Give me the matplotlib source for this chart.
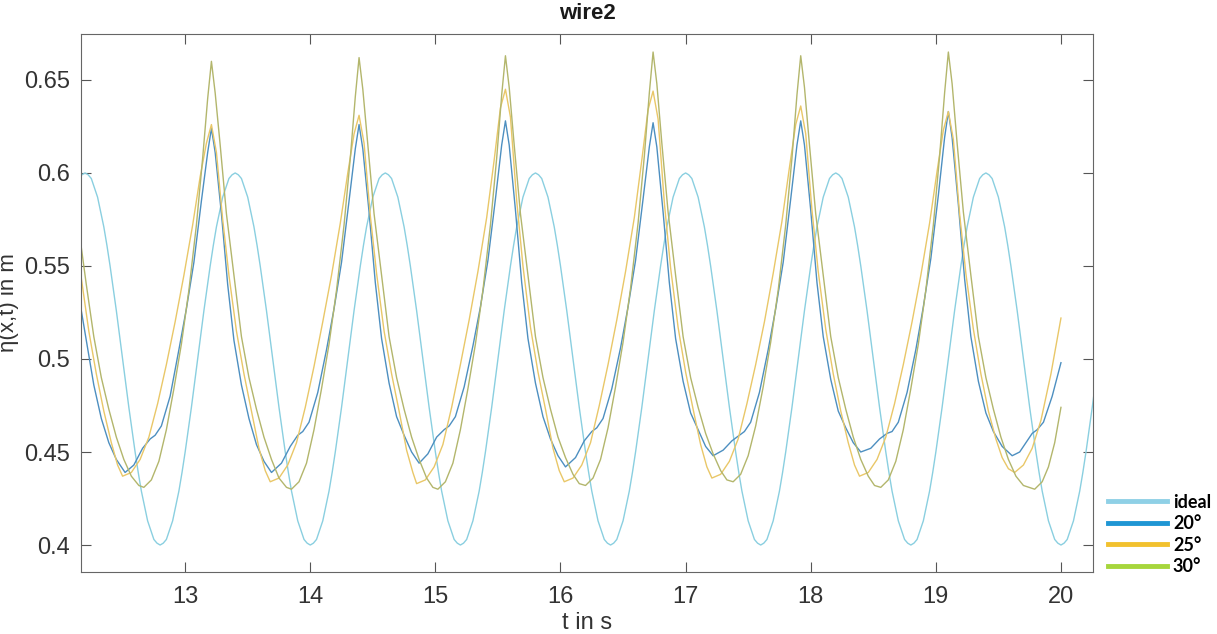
import matplotlib
matplotlib.use("Agg")
import matplotlib.pyplot as plt
from matplotlib.lines import Line2D
import numpy as np

plt.rcParams['font.family'] = ['Liberation Sans', 'DejaVu Sans']

# ideal wave, sampled every 0.025 s from 12.15 s to 20.30 s
ideal_y = [0.597, 0.599,
    0.6, 0.599, 0.597, 0.592, 0.587, 0.579, 0.571, 0.561, 0.55, 0.538, 0.526, 0.513, 0.5, 0.487, 0.474, 0.462, 0.45, 0.439, 0.429, 0.421, 0.413, 0.408, 0.403, 0.401,
    0.4, 0.401, 0.403, 0.408, 0.413, 0.421, 0.429, 0.439, 0.45, 0.462, 0.474, 0.487, 0.5, 0.513, 0.526, 0.538, 0.55, 0.561, 0.571, 0.579, 0.587, 0.592, 0.597, 0.599,
    0.6, 0.599, 0.597, 0.592, 0.587, 0.579, 0.571, 0.561, 0.55, 0.538, 0.526, 0.513, 0.5, 0.487, 0.474, 0.462, 0.45, 0.439, 0.429, 0.421, 0.413, 0.408, 0.403, 0.401,
    0.4, 0.401, 0.403, 0.408, 0.413, 0.421, 0.429, 0.439, 0.45, 0.462, 0.474, 0.487, 0.5, 0.513, 0.526, 0.538, 0.55, 0.561, 0.571, 0.579, 0.587, 0.592, 0.597, 0.599,
    0.6, 0.599, 0.597, 0.592, 0.587, 0.579, 0.571, 0.561, 0.55, 0.538, 0.526, 0.513, 0.5, 0.487, 0.474, 0.462, 0.45, 0.439, 0.429, 0.421, 0.413, 0.408, 0.403, 0.401,
    0.4, 0.401, 0.403, 0.408, 0.413, 0.421, 0.429, 0.439, 0.45, 0.462, 0.474, 0.487, 0.5, 0.513, 0.526, 0.538, 0.55, 0.561, 0.571, 0.579, 0.587, 0.592, 0.597, 0.599,
    0.6, 0.599, 0.597, 0.592, 0.587, 0.579, 0.571, 0.561, 0.55, 0.538, 0.526, 0.513, 0.5, 0.487, 0.474, 0.462, 0.45, 0.439, 0.429, 0.421, 0.413, 0.408, 0.403, 0.401,
    0.4, 0.401, 0.403, 0.408, 0.413, 0.421, 0.429, 0.439, 0.45, 0.462, 0.474, 0.487, 0.5, 0.513, 0.526, 0.538, 0.55, 0.561, 0.571, 0.579, 0.587, 0.592, 0.597, 0.599,
    0.6, 0.599, 0.597, 0.592, 0.587, 0.579, 0.571, 0.561, 0.55, 0.538, 0.526, 0.513, 0.5, 0.487, 0.474, 0.462, 0.45, 0.439, 0.429, 0.421, 0.413, 0.408, 0.403, 0.401,
    0.4, 0.401, 0.403, 0.408, 0.413, 0.421, 0.429, 0.439, 0.45, 0.462, 0.474, 0.487, 0.5, 0.513, 0.526, 0.538, 0.55, 0.561, 0.571, 0.579, 0.587, 0.592, 0.597, 0.599,
    0.6, 0.599, 0.597, 0.592, 0.587, 0.579, 0.571, 0.561, 0.55, 0.538, 0.526, 0.513, 0.5, 0.487, 0.474, 0.462, 0.45, 0.439, 0.429, 0.421, 0.413, 0.408, 0.403, 0.401,
    0.4, 0.401, 0.403, 0.408, 0.413, 0.421, 0.429, 0.439, 0.45, 0.462, 0.474, 0.487, 0.5, 0.513, 0.526, 0.538, 0.55, 0.561, 0.571, 0.579, 0.587, 0.592, 0.597, 0.599,
    0.6, 0.599, 0.597, 0.592, 0.587, 0.579, 0.571, 0.561, 0.55, 0.538, 0.526, 0.513, 0.5, 0.487, 0.474, 0.462, 0.45, 0.439, 0.429, 0.421, 0.413, 0.408, 0.403, 0.401,
    0.4, 0.401, 0.403, 0.408, 0.413, 0.421, 0.429, 0.439, 0.45, 0.462, 0.474, 0.487, 0.5]
ideal_t = np.linspace(12.15, 20.30, len(ideal_y))

# 20 degree
t20 = [12.15, 12.21, 12.27, 12.33, 12.39, 12.45, 12.52,
    12.59, 12.66, 12.72, 12.76, 12.81, 12.88, 12.95, 13.01, 13.07, 13.13, 13.18, 13.21, 13.24, 13.29, 13.34, 13.39, 13.45, 13.51, 13.57, 13.63, 13.69,
    13.77, 13.84, 13.90, 13.94, 13.99, 14.06, 14.13, 14.19, 14.25, 14.31, 14.36, 14.39, 14.42, 14.47, 14.52, 14.57, 14.63, 14.69, 14.75, 14.81, 14.87,
    14.94, 15.01, 15.07, 15.11, 15.16, 15.23, 15.30, 15.36, 15.42, 15.48, 15.53, 15.56, 15.59, 15.64, 15.69, 15.74, 15.80, 15.86, 15.92, 15.98, 16.04,
    16.12, 16.19, 16.25, 16.29, 16.34, 16.41, 16.48, 16.54, 16.60, 16.66, 16.71, 16.74, 16.77, 16.82, 16.87, 16.92, 16.98, 17.04, 17.10, 17.16, 17.22,
    17.30, 17.37, 17.43, 17.47, 17.52, 17.59, 17.66, 17.72, 17.78, 17.84, 17.89, 17.92, 17.95, 18.00, 18.05, 18.10, 18.16, 18.22, 18.28, 18.34, 18.40,
    18.48, 18.55, 18.61, 18.65, 18.70, 18.77, 18.84, 18.90, 18.96, 19.02, 19.07, 19.10, 19.13, 19.18, 19.23, 19.28, 19.34, 19.40, 19.46, 19.53, 19.61,
    19.67, 19.73, 19.77, 19.81, 19.86, 19.93, 20.00]
y20 = [0.534, 0.510, 0.486, 0.468, 0.455, 0.446, 0.439,
    0.443, 0.452, 0.457, 0.459, 0.464, 0.480, 0.505, 0.527, 0.552, 0.585, 0.611, 0.624, 0.611, 0.578, 0.540, 0.510, 0.486, 0.468, 0.454, 0.445, 0.439,
    0.444, 0.453, 0.459, 0.461, 0.466, 0.482, 0.505, 0.527, 0.552, 0.585, 0.613, 0.626, 0.613, 0.579, 0.541, 0.511, 0.487, 0.469, 0.459, 0.450, 0.444,
    0.449, 0.458, 0.462, 0.464, 0.469, 0.485, 0.507, 0.528, 0.553, 0.586, 0.615, 0.628, 0.615, 0.580, 0.541, 0.511, 0.487, 0.469, 0.457, 0.448, 0.442,
    0.447, 0.456, 0.461, 0.463, 0.468, 0.484, 0.506, 0.528, 0.553, 0.586, 0.614, 0.627, 0.614, 0.579, 0.541, 0.511, 0.488, 0.471, 0.462, 0.453, 0.448,
    0.451, 0.456, 0.459, 0.461, 0.466, 0.482, 0.505, 0.527, 0.552, 0.586, 0.615, 0.628, 0.615, 0.580, 0.541, 0.512, 0.489, 0.472, 0.463, 0.455, 0.450,
    0.452, 0.457, 0.460, 0.461, 0.466, 0.482, 0.505, 0.528, 0.554, 0.588, 0.619, 0.633, 0.619, 0.583, 0.543, 0.512, 0.488, 0.471, 0.461, 0.453, 0.448,
    0.450, 0.456, 0.460, 0.462, 0.466, 0.480, 0.498]

# 25 degree
t25 = [12.15, 12.23, 12.29, 12.35, 12.41, 12.46, 12.50,
    12.57, 12.64, 12.71, 12.78, 12.85, 12.92, 12.99, 13.06, 13.12, 13.17, 13.21, 13.25, 13.30, 13.35, 13.41, 13.47, 13.53, 13.59, 13.64, 13.68,
    13.75, 13.82, 13.89, 13.96, 14.03, 14.10, 14.17, 14.24, 14.30, 14.35, 14.39, 14.43, 14.48, 14.53, 14.59, 14.65, 14.71, 14.77, 14.82, 14.85,
    14.92, 14.99, 15.06, 15.13, 15.20, 15.27, 15.34, 15.41, 15.47, 15.52, 15.56, 15.60, 15.65, 15.70, 15.76, 15.82, 15.88, 15.94, 15.99, 16.03,
    16.10, 16.17, 16.24, 16.31, 16.38, 16.45, 16.52, 16.59, 16.65, 16.70, 16.74, 16.78, 16.83, 16.88, 16.94, 17.00, 17.06, 17.12, 17.17, 17.21,
    17.28, 17.35, 17.42, 17.49, 17.56, 17.63, 17.70, 17.77, 17.83, 17.88, 17.92, 17.96, 18.01, 18.06, 18.12, 18.18, 18.24, 18.30, 18.35, 18.39,
    18.46, 18.53, 18.60, 18.67, 18.74, 18.81, 18.88, 18.95, 19.01, 19.06, 19.10, 19.14, 19.19, 19.24, 19.30, 19.36, 19.42, 19.48, 19.53, 19.58, 19.63,
    19.70, 19.77, 19.84, 19.92, 20.00]
y25 = [0.553, 0.515, 0.492, 0.472, 0.455, 0.443, 0.437,
    0.439, 0.446, 0.458, 0.476, 0.497, 0.520, 0.545, 0.572, 0.598, 0.616, 0.626, 0.611, 0.575, 0.545, 0.515, 0.492, 0.472, 0.452, 0.440, 0.434,
    0.436, 0.443, 0.455, 0.474, 0.496, 0.520, 0.545, 0.573, 0.600, 0.621, 0.631, 0.616, 0.577, 0.546, 0.515, 0.492, 0.472, 0.451, 0.439, 0.433,
    0.435, 0.442, 0.454, 0.474, 0.497, 0.521, 0.547, 0.576, 0.607, 0.635, 0.645, 0.630, 0.585, 0.550, 0.517, 0.493, 0.473, 0.452, 0.440, 0.434,
    0.436, 0.443, 0.455, 0.475, 0.497, 0.521, 0.547, 0.576, 0.607, 0.634, 0.644, 0.629, 0.584, 0.549, 0.517, 0.493, 0.473, 0.454, 0.442, 0.436,
    0.438, 0.445, 0.457, 0.476, 0.497, 0.520, 0.546, 0.574, 0.603, 0.626, 0.636, 0.621, 0.580, 0.547, 0.516, 0.492, 0.472, 0.455, 0.443, 0.437,
    0.439, 0.446, 0.458, 0.476, 0.497, 0.520, 0.545, 0.573, 0.601, 0.623, 0.633, 0.618, 0.578, 0.546, 0.516, 0.492, 0.472, 0.457, 0.447, 0.441, 0.439,
    0.443, 0.452, 0.467, 0.492, 0.522]

# 30 degree
t30 = [12.15, 12.21, 12.27, 12.33, 12.39, 12.45, 12.51, 12.57, 12.63, 12.67,
    12.73, 12.79, 12.85, 12.91, 12.97, 13.03, 13.09, 13.14, 13.18, 13.21, 13.24, 13.28, 13.33, 13.39, 13.45, 13.51, 13.57, 13.63, 13.69, 13.75, 13.81, 13.85,
    13.91, 13.97, 14.03, 14.09, 14.15, 14.21, 14.27, 14.32, 14.36, 14.39, 14.42, 14.46, 14.51, 14.57, 14.63, 14.69, 14.75, 14.81, 14.87, 14.93, 14.98, 15.02,
    15.08, 15.14, 15.20, 15.26, 15.32, 15.38, 15.44, 15.49, 15.53, 15.56, 15.59, 15.63, 15.68, 15.74, 15.80, 15.86, 15.92, 15.98, 16.04, 16.10, 16.15, 16.20,
    16.26, 16.32, 16.38, 16.44, 16.50, 16.56, 16.62, 16.67, 16.71, 16.74, 16.77, 16.81, 16.86, 16.92, 16.98, 17.04, 17.10, 17.16, 17.22, 17.28, 17.33, 17.38,
    17.44, 17.50, 17.56, 17.62, 17.68, 17.74, 17.80, 17.85, 17.89, 17.92, 17.95, 17.99, 18.04, 18.10, 18.16, 18.22, 18.28, 18.34, 18.40, 18.46, 18.51, 18.56,
    18.62, 18.68, 18.74, 18.80, 18.86, 18.92, 18.98, 19.03, 19.07, 19.10, 19.13, 19.17, 19.22, 19.28, 19.34, 19.40, 19.46, 19.52, 19.58, 19.64, 19.70, 19.79,
    19.85, 19.90, 19.95, 20.00]
y30 = [0.570, 0.540, 0.512, 0.490, 0.473, 0.458, 0.446, 0.437, 0.432, 0.431,
    0.435, 0.445, 0.462, 0.484, 0.508, 0.537, 0.572, 0.608, 0.640, 0.660, 0.643, 0.615, 0.578, 0.545, 0.512, 0.490, 0.473, 0.458, 0.446, 0.436, 0.431, 0.430,
    0.434, 0.444, 0.462, 0.484, 0.508, 0.537, 0.572, 0.608, 0.641, 0.662, 0.645, 0.615, 0.578, 0.545, 0.512, 0.490, 0.473, 0.458, 0.446, 0.436, 0.431, 0.430,
    0.434, 0.444, 0.462, 0.484, 0.508, 0.537, 0.572, 0.608, 0.642, 0.663, 0.646, 0.615, 0.578, 0.545, 0.512, 0.490, 0.473, 0.458, 0.447, 0.438, 0.433, 0.432,
    0.436, 0.446, 0.463, 0.485, 0.509, 0.538, 0.573, 0.609, 0.643, 0.665, 0.648, 0.616, 0.579, 0.545, 0.512, 0.490, 0.474, 0.460, 0.449, 0.440, 0.435, 0.434,
    0.438, 0.448, 0.464, 0.485, 0.509, 0.537, 0.572, 0.608, 0.642, 0.663, 0.646, 0.615, 0.578, 0.545, 0.512, 0.490, 0.473, 0.458, 0.446, 0.437, 0.432, 0.431,
    0.435, 0.445, 0.462, 0.484, 0.508, 0.537, 0.572, 0.609, 0.643, 0.665, 0.648, 0.616, 0.579, 0.545, 0.512, 0.490, 0.473, 0.458, 0.446, 0.437, 0.432, 0.430,
    0.434, 0.442, 0.455, 0.474]

labels = ["ideal", "20°", "25°", "30°"]
line_colors = ["#8acfe0", "#4d8fc0", "#e9c768", "#b3b66c"]
legend_colors = ["#8fd0e6", "#1f96d4", "#f2c12e", "#a6d63c"]

xticks = [13, 14, 15, 16, 17, 18, 19, 20]
yticks = [0.4, 0.45, 0.5, 0.55, 0.6, 0.65]
ytick_labels = ["0.4", "0.45", "0.5", "0.55", "0.6", "0.65"]

fig = plt.figure(figsize=(12.17, 6.34), dpi=100)
ax = fig.add_axes([0.0666, 0.0978, 0.8315, 0.8486])

series = [(ideal_t, ideal_y), (t20, y20), (t25, y25), (t30, y30)]
for (t, y), c in zip(series, line_colors):
    ax.plot(t, y, color=c, lw=1.0)

ax.set_xlim(12.168, 20.256)
ax.set_ylim(0.3855, 0.6747)
ax.set_xticks(xticks)
ax.set_yticks(yticks)
ax.set_yticklabels(ytick_labels)
ax.tick_params(direction="in", length=7, width=0.8, top=True, right=True,
               labelsize=17, colors="#555555", labelcolor="#333333")
ax.tick_params(axis="x", pad=10)
ax.tick_params(axis="y", pad=8)
for s in ax.spines.values():
    s.set_color("#666666")
    s.set_linewidth(0.8)

ax.set_xlabel("t in s", fontsize=17, color="#333333", labelpad=3)
ax.set_ylabel("η(x,t) in m", fontsize=16, color="#333333")
ax.yaxis.set_label_coords(-0.061, 0.5)
ax.set_title("wire2", fontsize=16, fontweight="bold", color="#1a1a1a", pad=11)

handles = [Line2D([0], [0], color=c, lw=3.5) for c in legend_colors]
fig.legend(handles, labels, loc="upper left", bbox_to_anchor=(0.897, 0.247),
           frameon=False, handlelength=3.3, handletextpad=0.3, labelspacing=0.25,
           prop={"family": ["Lato", "DejaVu Sans"], "weight": "bold", "size": 13})

fig.savefig("out.png", dpi=100)
